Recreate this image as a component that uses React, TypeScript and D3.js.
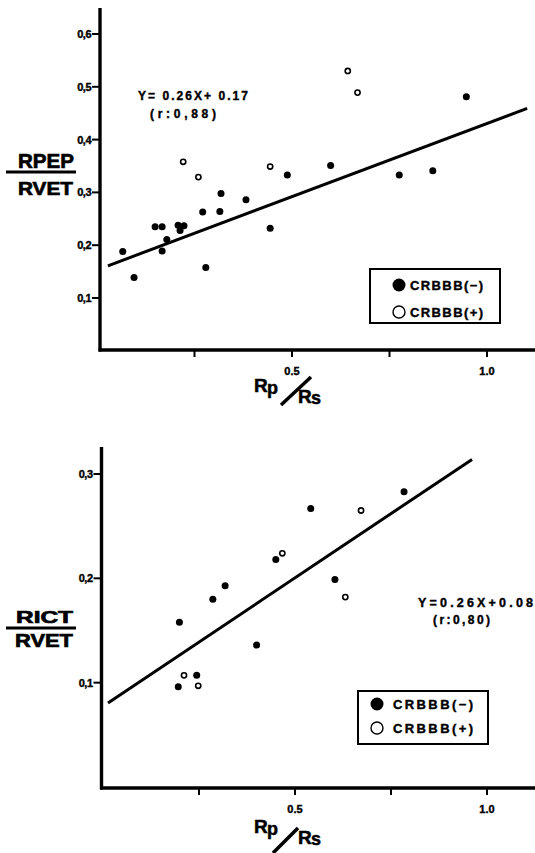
import * as d3 from "d3";
import React from "react";

// x axis (Rp/Rs) shared by both panels
const xTicks = [0.25, 0.5, 0.75, 1.0];
const xTickLabels = ["", "0.5", "", "1.0"];

// top panel: RPEP/RVET
const topYTicks = [0.1, 0.2, 0.3, 0.4, 0.5, 0.6];
const topYTickLabels = ["0,1", "0,2", "0,3", "0,4", "0,5", "0,6"];
const topNegative: [number, number][] = [
  [0.066, 0.188], [0.095, 0.139], [0.149, 0.235], [0.167, 0.235], [0.179, 0.211],
  [0.167, 0.189], [0.208, 0.238], [0.223, 0.237], [0.213, 0.228], [0.271, 0.263],
  [0.279, 0.158], [0.318, 0.298], [0.315, 0.264], [0.382, 0.286], [0.444, 0.232],
  [0.488, 0.333], [0.599, 0.351], [0.775, 0.333], [0.861, 0.341], [0.947, 0.481],
];
const topPositive: [number, number][] = [
  [0.221, 0.358], [0.26, 0.329], [0.444, 0.349], [0.643, 0.53], [0.668, 0.489],
];
const topFit: [number, number][] = [[0.028, 0.161], [1.103, 0.459]];

// bottom panel: RICT/RVET
const bottomYTicks = [0.1, 0.2, 0.3];
const bottomYTickLabels = ["0,1", "0,2", "0,3"];
const bottomNegative: [number, number][] = [
  [0.199, 0.158], [0.286, 0.18], [0.318, 0.193], [0.4, 0.136], [0.196, 0.096],
  [0.244, 0.107], [0.45, 0.218], [0.541, 0.267], [0.784, 0.283], [0.604, 0.199],
];
const bottomPositive: [number, number][] = [
  [0.211, 0.107], [0.248, 0.097], [0.467, 0.224], [0.672, 0.265], [0.631, 0.182],
];
const bottomFit: [number, number][] = [[0.013, 0.0805], [0.961, 0.314]];

const FONT = "'Liberation Sans', Arial, Helvetica, sans-serif";

type Txt = { text: string; x: number; y: number; len: number; size: number };

// heavy "scanned print" look: bold plus a thin outline
const heavy = { fontFamily: FONT, fontWeight: "bold", fill: "#000", stroke: "#000", strokeWidth: 0.5 } as const;

const RpRs = ({ x0, b0, slash }: { x0: number; b0: number; slash: number[] }) => (
  <g {...heavy}>
    <text x={x0} y={b0} fontSize={19}>R</text>
    <text x={x0 + 13} y={b0 + 1.5} fontSize={18}>p</text>
    <line x1={slash[0]} y1={slash[1]} x2={slash[2]} y2={slash[3]} stroke="#000" strokeWidth={3.5} />
    <text x={x0 + 44} y={b0 + 11} fontSize={19}>R</text>
    <text x={x0 + 57} y={b0 + 12} fontSize={18}>s</text>
  </g>
);

const Panel = (p: {
  xRange: [number, number];
  yDomain: [number, number];
  yRange: [number, number];
  axisX: number;
  axisY: number;
  axisTop: number;
  yTicks: number[];
  yTickLabels: string[];
  negative: [number, number][];
  positive: [number, number][];
  fit: [number, number][];
  numLabel: Txt;
  denLabel: Txt;
  fracLine: number;
  eq: Txt;
  r: Txt;
  legend: { x: number; y: number; w: number; h: number; cx: number; tx: number; tlen: number; rows: number[] };
  xLabel: { x0: number; b0: number; slash: number[] };
}) => {
  const x = d3.scaleLinear().domain([0, 1]).range(p.xRange);
  const y = d3.scaleLinear().domain(p.yDomain).range(p.yRange);
  const line = d3.line<[number, number]>().x((d) => x(d[0])).y((d) => y(d[1]));
  return (
    <g>
      {/* axes */}
      <line x1={p.axisX} y1={p.axisTop} x2={p.axisX} y2={p.axisY + 1.5} stroke="#000" strokeWidth={3.4} />
      <line x1={p.axisX - 1.5} y1={p.axisY} x2={535} y2={p.axisY} stroke="#000" strokeWidth={3.4} />
      {p.yTicks.map((t, i) => (
        <g key={"y" + t}>
          <line x1={p.axisX - 8} x2={p.axisX} y1={y(t)} y2={y(t)} stroke="#000" strokeWidth={2} />
          <text x={p.axisX - 9} y={y(t) + 4} textAnchor="end" fontSize={11} {...heavy} strokeWidth={0.4}
            letterSpacing={-0.5}>
            {p.yTickLabels[i]}
          </text>
        </g>
      ))}
      {xTicks.map((t, i) => (
        <g key={"x" + t}>
          <line x1={x(t)} x2={x(t)} y1={p.axisY} y2={p.axisY + 7} stroke="#000" strokeWidth={2} />
          <text x={x(t)} y={p.axisY + 25} textAnchor="middle" fontSize={11} {...heavy} strokeWidth={0.4}>
            {xTickLabels[i]}
          </text>
        </g>
      ))}
      {/* regression line */}
      <path d={line(p.fit) || ""} stroke="#000" strokeWidth={3} fill="none" />
      {/* points */}
      {p.negative.map((d, i) => (
        <circle key={"n" + i} cx={x(d[0])} cy={y(d[1])} r={3.5} fill="#000" />
      ))}
      {p.positive.map((d, i) => (
        <circle key={"p" + i} cx={x(d[0])} cy={y(d[1])} r={2.6} fill="#fff" stroke="#000" strokeWidth={1.6} />
      ))}
      {/* y label */}
      <g {...heavy} strokeWidth={0.7}>
        <text x={p.numLabel.x} y={p.numLabel.y} fontSize={p.numLabel.size} textLength={p.numLabel.len}
          lengthAdjust="spacingAndGlyphs">{p.numLabel.text}</text>
        <line x1={6} x2={76} y1={p.fracLine} y2={p.fracLine} stroke="#000" strokeWidth={3} />
        <text x={p.denLabel.x} y={p.denLabel.y} fontSize={p.denLabel.size} textLength={p.denLabel.len}
          lengthAdjust="spacingAndGlyphs">{p.denLabel.text}</text>
      </g>
      {/* equation */}
      <g {...heavy} strokeWidth={0.4}>
        <text x={p.eq.x} y={p.eq.y} fontSize={p.eq.size} textLength={p.eq.len} lengthAdjust="spacing">{p.eq.text}</text>
        <text x={p.r.x} y={p.r.y} fontSize={p.r.size} textLength={p.r.len} lengthAdjust="spacing">{p.r.text}</text>
      </g>
      {/* legend */}
      <rect x={p.legend.x} y={p.legend.y} width={p.legend.w} height={p.legend.h} fill="#fff" stroke="#000" strokeWidth={2} />
      <circle cx={p.legend.cx} cy={p.legend.rows[0]} r={6.5} fill="#000" />
      <circle cx={p.legend.cx} cy={p.legend.rows[1]} r={6} fill="#fff" stroke="#000" strokeWidth={1.4} />
      <g {...heavy} strokeWidth={0.4}>
        <text x={p.legend.tx} y={p.legend.rows[0] + 5} fontSize={13} textLength={p.legend.tlen} lengthAdjust="spacing">CRBBB(−)</text>
        <text x={p.legend.tx} y={p.legend.rows[1] + 5} fontSize={13} textLength={p.legend.tlen} lengthAdjust="spacing">CRBBB(+)</text>
      </g>
      <RpRs {...p.xLabel} />
    </g>
  );
};

export default function App() {
  return (
    <svg width={535} height={853} style={{ position: "absolute", left: 0, top: 0, background: "#fff" }}>
      <rect width={535} height={853} fill="#fff" />
      <Panel
        xRange={[97, 487]}
        yDomain={[0, 0.6]}
        yRange={[350.8, 34]}
        axisX={100}
        axisY={350}
        axisTop={8}
        yTicks={topYTicks}
        yTickLabels={topYTickLabels}
        negative={topNegative}
        positive={topPositive}
        fit={topFit}
        numLabel={{ text: "RPEP", x: 18, y: 168, len: 56, size: 21 }}
        denLabel={{ text: "RVET", x: 18, y: 195, len: 55, size: 19 }}
        fracLine={172}
        eq={{ text: "Y= 0.26X+ 0.17", x: 138, y: 100, len: 110, size: 12 }}
        r={{ text: "(r:0,88)", x: 150, y: 118, len: 66, size: 12 }}
        legend={{ x: 370, y: 269, w: 130, h: 54, cx: 399, tx: 410, tlen: 73, rows: [285, 312] }}
        xLabel={{ x0: 254, b0: 392, slash: [281, 405, 311, 377] }}
      />
      <Panel
        xRange={[103, 487]}
        yDomain={[0, 0.3]}
        yRange={[787, 474]}
        axisX={101.5}
        axisY={788}
        axisTop={447}
        yTicks={bottomYTicks}
        yTickLabels={bottomYTickLabels}
        negative={bottomNegative}
        positive={bottomPositive}
        fit={bottomFit}
        numLabel={{ text: "RICT", x: 16, y: 623, len: 57, size: 17 }}
        denLabel={{ text: "RVET", x: 15, y: 647, len: 58, size: 19 }}
        fracLine={628}
        eq={{ text: "Y=0.26X+0.08", x: 418, y: 607, len: 115, size: 12.5 }}
        r={{ text: "(r:0,80)", x: 433, y: 624, len: 57, size: 12 }}
        legend={{ x: 358, y: 691, w: 130, h: 53, cx: 377, tx: 393, tlen: 80, rows: [704, 728] }}
        xLabel={{ x0: 254, b0: 833, slash: [273, 853, 298, 828] }}
      />
    </svg>
  );
}
